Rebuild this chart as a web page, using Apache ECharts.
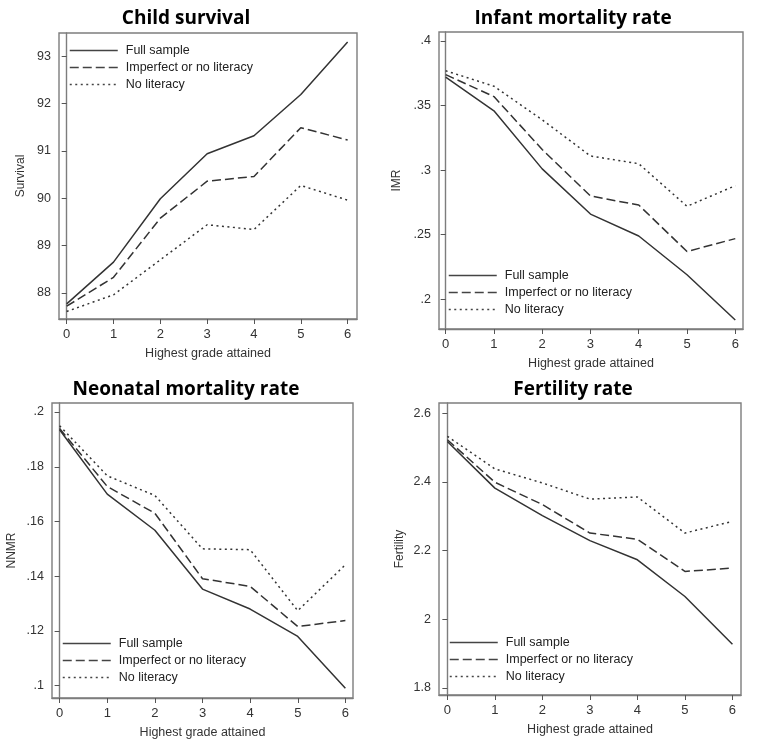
<!DOCTYPE html>
<html>
<head>
<meta charset="utf-8">
<script src="https://cdn.jsdelivr.net/npm/echarts@6/dist/echarts.min.js"></script>
<style>
  html, body { margin: 0; padding: 0; background: #fff; }
  #main { width: 759px; height: 755px; }
</style>
</head>
<body>
<div id="main"></div>
<script>
// grades on the x axis
var grades = [0, 1, 2, 3, 4, 5, 6];
var seriesNames = ['Full sample', 'Imperfect or no literacy', 'No literacy'];

// Child survival
var survFull = [87.77, 88.65, 89.99, 90.94, 91.32, 92.19, 93.30];
var survImperfect = [87.72, 88.33, 89.58, 90.36, 90.46, 91.49, 91.23];
var survNoLit = [87.61, 87.96, 88.70, 89.44, 89.34, 90.27, 89.96];
var survTicks = [88, 89, 90, 91, 92, 93];

// Infant mortality rate
var imrFull = [0.372, 0.346, 0.301, 0.266, 0.249, 0.219, 0.184];
var imrImperfect = [0.374, 0.357, 0.316, 0.280, 0.273, 0.237, 0.247];
var imrNoLit = [0.377, 0.365, 0.339, 0.311, 0.305, 0.272, 0.288];
var imrTicks = [0.2, 0.25, 0.3, 0.35, 0.4];

// Neonatal mortality rate
var nnmrFull = [0.1935, 0.170, 0.1568, 0.1353, 0.128, 0.118, 0.0991];
var nnmrImperfect = [0.194, 0.1728, 0.163, 0.1391, 0.1363, 0.1216, 0.1238];
var nnmrNoLit = [0.195, 0.1767, 0.1695, 0.150, 0.1497, 0.1274, 0.1442];
var nnmrTicks = [0.1, 0.12, 0.14, 0.16, 0.18, 0.2];

// Fertility rate
var fertFull = [2.518, 2.382, 2.302, 2.229, 2.173, 2.066, 1.927];
var fertImperfect = [2.523, 2.399, 2.334, 2.251, 2.233, 2.139, 2.149];
var fertNoLit = [2.533, 2.438, 2.397, 2.350, 2.356, 2.251, 2.285];
var fertTicks = [1.8, 2, 2.2, 2.4, 2.6];

var panels = [
  { title: 'Child survival', yName: 'Survival', data: [survFull, survImperfect, survNoLit], ticks: survTicks,
    grid: { left: 59, top: 33, width: 298, height: 286 }, x: [-0.164, 6.2], y: [87.45, 93.49],
    titlePos: [181, 4], yGap: 32, legend: { left: 69, top: 44 } },
  { title: 'Infant mortality rate', yName: 'IMR', data: [imrFull, imrImperfect, imrNoLit], ticks: imrTicks,
    grid: { left: 439, top: 32, width: 304, height: 297 }, x: [-0.138, 6.16], y: [0.177, 0.407],
    titlePos: [568, 4], yGap: 36, legend: { left: 448, top: 269 } },
  { title: 'Neonatal mortality rate', yName: 'NNMR', data: [nnmrFull, nnmrImperfect, nnmrNoLit], ticks: nnmrTicks,
    grid: { left: 52, top: 403, width: 301, height: 295 }, x: [-0.16, 6.16], y: [0.0955, 0.2033],
    titlePos: [181, 375], yGap: 34, legend: { left: 62, top: 637 } },
  { title: 'Fertility rate', yName: 'Fertility', data: [fertFull, fertImperfect, fertNoLit], ticks: fertTicks,
    grid: { left: 439, top: 403, width: 302, height: 292 }, x: [-0.176, 6.18], y: [1.779, 2.63],
    titlePos: [568, 375], yGap: 33, legend: { left: 449, top: 636 } }
];

var lineColor = '#333333';
var boxColor = '#7d7d7d';
var dashes = ['solid', [9, 4], [2, 3.5]];
var axisFont = 'Liberation Sans, Arial, sans-serif';

function fmtTick(v) {
  var s = String(Math.round(v * 1000) / 1000);
  return s.replace(/^0\./, '.');
}

var option = {
  animation: false,
  backgroundColor: '#fff',
  title: [], grid: [], xAxis: [], yAxis: [], legend: [], series: []
};

panels.forEach(function (p, i) {
  option.title.push({
    text: p.title, left: p.titlePos[0], top: p.titlePos[1], textAlign: 'center',
    textStyle: { fontFamily: 'Open Sans', fontWeight: 'bold', fontSize: 19, color: '#000' }
  });
  option.grid.push({
    left: p.grid.left, top: p.grid.top, width: p.grid.width, height: p.grid.height,
    show: true, borderColor: boxColor, borderWidth: 1.4, backgroundColor: '#fff'
  });
  option.xAxis.push({
    type: 'value', gridIndex: i, min: p.x[0], max: p.x[1],
    name: 'Highest grade attained', nameLocation: 'middle', nameGap: 28,
    nameTextStyle: { fontFamily: axisFont, fontSize: 12.5, color: '#333' },
    axisLine: { show: true, lineStyle: { color: boxColor, width: 1.4 } },
    axisTick: { show: true, inside: false, length: 5, customValues: grades, lineStyle: { color: '#555' } },
    axisLabel: { customValues: grades, margin: 9, fontFamily: axisFont, fontSize: 13, color: '#333' },
    splitLine: { show: false }
  });
  option.yAxis.push({
    type: 'value', gridIndex: i, min: p.y[0], max: p.y[1],
    name: p.yName, nameLocation: 'middle', nameGap: p.yGap,
    nameTextStyle: { fontFamily: axisFont, fontSize: 12, color: '#333' },
    axisLine: { show: true, lineStyle: { color: boxColor, width: 1.4 } },
    axisTick: { show: true, inside: false, length: 5, customValues: p.ticks, lineStyle: { color: '#555' } },
    axisLabel: { customValues: p.ticks, margin: 8, fontFamily: axisFont, fontSize: 12.5, color: '#333',
      formatter: fmtTick },
    splitLine: { show: false }
  });
  option.legend.push({
    orient: 'vertical', left: p.legend.left, top: p.legend.top, padding: 0,
    itemWidth: 48, itemHeight: 14, itemGap: 4, selectedMode: false,
    data: seriesNames,
    itemStyle: { opacity: 0 },
    lineStyle: { width: 1.5, color: '#444' },
    textStyle: { fontFamily: axisFont, fontSize: 12.5, color: '#222', padding: [0, 0, 0, 3] }
  });
  p.data.forEach(function (vals, k) {
    option.series.push({
      name: seriesNames[k], type: 'line', xAxisIndex: i, yAxisIndex: i,
      data: grades.map(function (g, j) { return [g, vals[j]]; }),
      symbol: 'none', silent: true,
      lineStyle: { color: lineColor, width: 1.5, type: dashes[k] },
      itemStyle: { color: lineColor }
    });
  });
});

var chart = echarts.init(document.getElementById('main'));
chart.setOption(option);
</script>
</body>
</html>
